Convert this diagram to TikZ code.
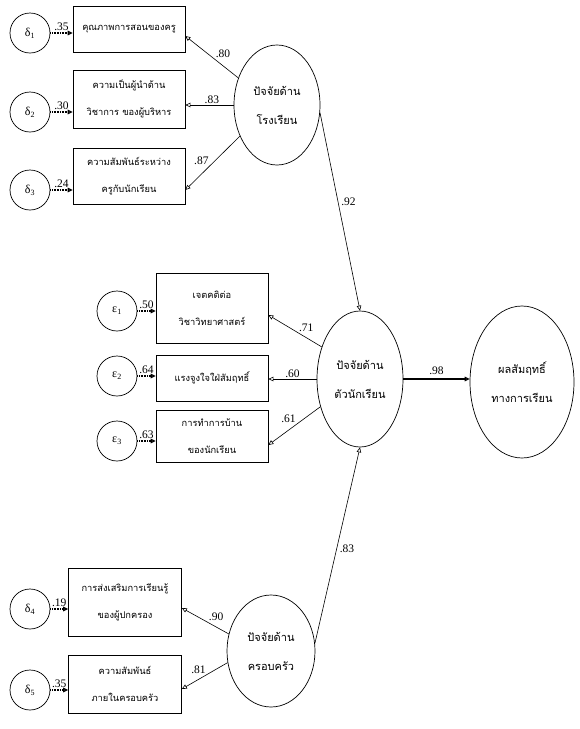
\documentclass[tikz,border=0pt]{standalone}
\usepackage{fontspec}
\setmainfont{Liberation Serif}
\newfontfamily\thaifont[Script=Thai]{Loma}
\usetikzlibrary{arrows.meta,shapes.geometric}
\tikzset{
  conn/.style={line width=0.6pt, -{Triangle[open,length=5pt,width=4.5pt]}},
  errconn/.style={line width=1.2pt, dash pattern=on 1pt off 0.6pt, -{Triangle[open,length=5pt,width=4.5pt]}},
  obsbox/.style={draw, line width=0.7pt, minimum width=112pt, align=center, font=\thaifont\fontsize{9.3}{27}\selectfont, inner sep=0pt},
  errc/.style={draw, circle, line width=0.7pt, minimum size=40pt, inner sep=0pt, font=\fontsize{12}{14}\selectfont},
  latent/.style={draw, ellipse, line width=0.7pt, align=center, inner sep=0pt, font=\thaifont\fontsize{11}{29}\selectfont},
  coef/.style={font=\fontsize{11.5}{13}\selectfont, inner sep=1pt}
}
\begin{document}
\begin{tikzpicture}[x=1pt,y=-1pt]
\useasboundingbox (0,0) rectangle (579,729);
% school block
\node[obsbox, minimum height=46pt] (b1) at (129,29) {คุณภาพการสอนของครู};
\node[obsbox, minimum height=58pt] (b2) at (129,99) {ความเป็นผู้นำด้าน\\วิชาการ ของผู้บริหาร};
\node[obsbox, minimum height=56pt] (b3) at (129,176) {ความสัมพันธ์ระหว่าง\\ครูกับนักเรียน};
\node[errc] (d1) at (30,33) {δ\textsubscript{1}};
\node[errc] (d2) at (30,112) {δ\textsubscript{2}};
\node[errc] (d3) at (30,190) {δ\textsubscript{3}};
\node[latent, minimum width=86pt, minimum height=120pt] (school) at (277,105) {ปัจจัยด้าน\\โรงเรียน};
% student block
\node[obsbox, minimum height=70pt] (s1) at (212,308) {เจตคติต่อ\\วิชาวิทยาศาสตร์};
\node[obsbox, minimum height=46pt] (s2) at (212,378) {แรงจูงใจใฝ่สัมฤทธิ์};
\node[obsbox, minimum height=52pt] (s3) at (212,436) {การทำการบ้าน\\ของนักเรียน};
\node[errc] (e1) at (117,311) {ε\textsubscript{1}};
\node[errc] (e2) at (117,376) {ε\textsubscript{2}};
\node[errc] (e3) at (117,441) {ε\textsubscript{3}};
\node[latent, minimum width=86pt, minimum height=136pt] (student) at (360,379) {ปัจจัยด้าน\\ตัวนักเรียน};
% outcome
\node[latent, minimum width=104pt, minimum height=152pt] (out) at (522,382) {ผลสัมฤทธิ์\\ทางการเรียน};
% family block
\node[obsbox, minimum width=113pt, minimum height=68pt] (f1) at (125,602) {การส่งเสริมการเรียนรู้\\ของผู้ปกครอง};
\node[obsbox, minimum width=113pt, minimum height=58pt] (f2) at (125,684) {ความสัมพันธ์\\ภายในครอบครัว};
\node[errc] (d4) at (30,609) {δ\textsubscript{4}};
\node[errc] (d5) at (30,690) {δ\textsubscript{5}};
\node[latent, minimum width=88pt, minimum height=112pt] (family) at (271,651) {ปัจจัยด้าน\\ครอบครัว};
% error arrows
\draw[errconn] (d1) -- (d1 -| b1.west) node[coef, midway, above=1pt] {.35};
\draw[errconn] (d2) -- (d2 -| b2.west) node[coef, midway, above=1pt] {.30};
\draw[errconn] (d3) -- (d3 -| b3.west) node[coef, midway, above=1pt] {.24};
\draw[errconn] (e1) -- (e1 -| s1.west) node[coef, midway, above=1pt] {.50};
\draw[errconn] (e2) -- (e2 -| s2.west) node[coef, midway, above=1pt] {.64};
\draw[errconn] (e3) -- (e3 -| s3.west) node[coef, midway, above=1pt] {.63};
\draw[errconn] (d4) -- (d4 -| f1.west) node[coef, midway, above=1pt] {.19};
\draw[errconn] (d5) -- (d5 -| f2.west) node[coef, midway, above=1pt] {.35};
% loadings
\draw[conn] (school.145) -- ([yshift=-7pt]b1.east) node[coef, pos=0.45, above right=0pt] {.80};
\draw[conn] (school.180) -- (school.180 -| b2.east) node[coef, pos=0.45, above] {.83};
\draw[conn] (school.220) -- ([yshift=-14pt]b3.east) node[coef, pos=0.55, above left=0pt] {.87};
\draw[conn] (student.140) -- ([yshift=-7pt]s1.east) node[coef, pos=0.45, above right=0pt] {.71};
\draw[conn] (student.180) -- (student.180 -| s2.east) node[coef, pos=0.5, above] {.60};
\draw[conn] (student.215) -- ([yshift=-9pt]s3.east) node[coef, pos=0.45, above left=0pt] {.61};
\draw[conn] (family.158) -- ([yshift=-6pt]f1.east) node[coef, pos=0.45, above right=0pt] {.90};
\draw[conn] (family.195) -- ([yshift=-5pt]f2.east) node[coef, pos=0.45, above left=0pt] {.81};
% structural paths
\draw[conn] (school.350) -- (student.north) node[coef, pos=0.45, right=2pt] {.92};
\draw[conn] (family.10) -- (student.south) node[coef, pos=0.48, right=2pt] {.83};
\draw[conn, line width=1.2pt] (student.east) -- (student.east -| out.west) node[coef, midway, above=3pt] {.98};
\end{tikzpicture}
\end{document}
